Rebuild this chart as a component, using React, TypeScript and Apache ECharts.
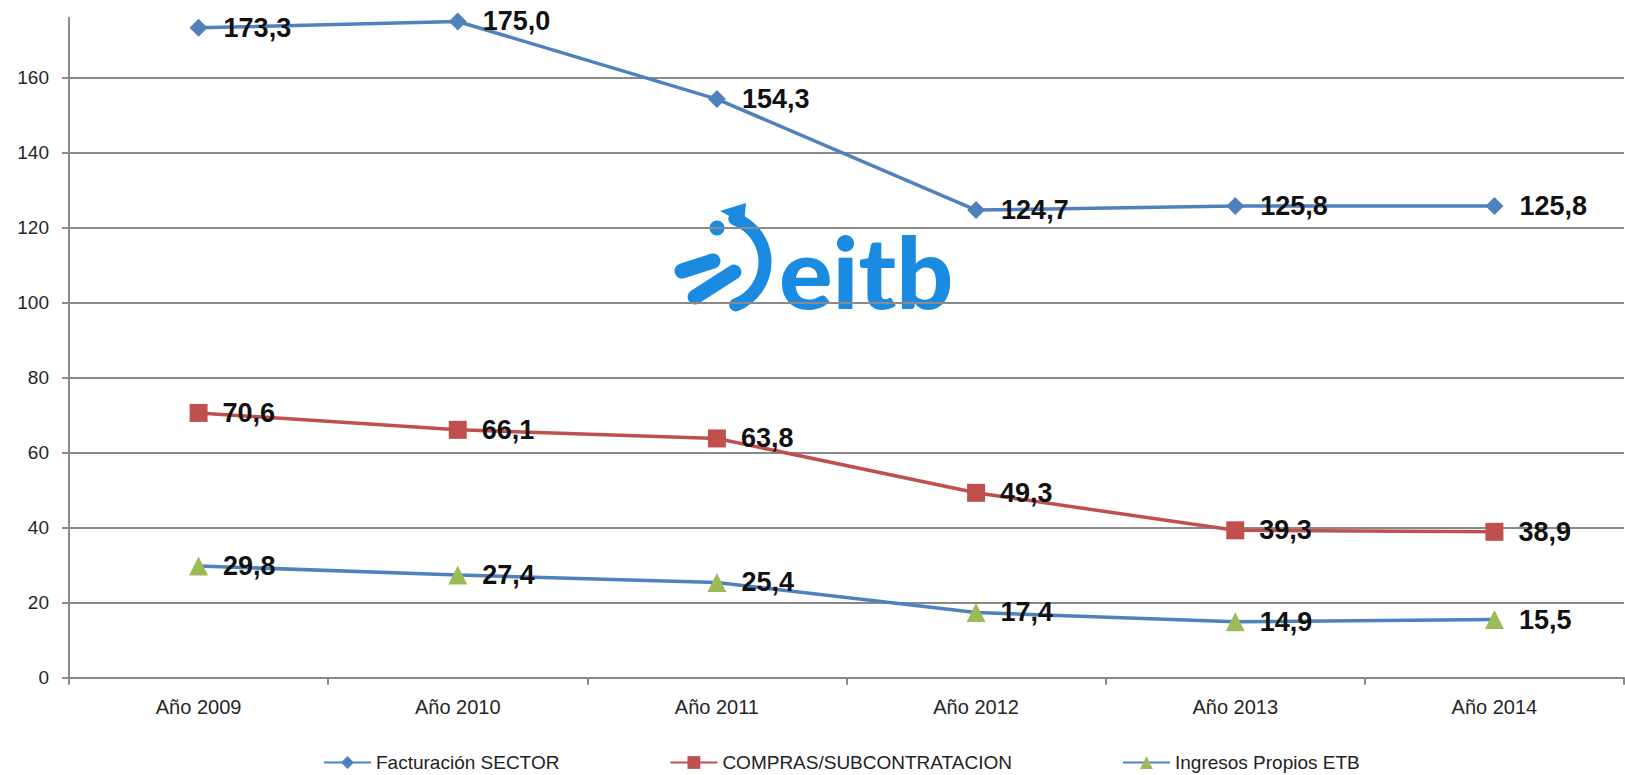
import React, { useEffect, useRef } from "react";
import * as echarts from "echarts";

const categories = ["Año 2009", "Año 2010", "Año 2011", "Año 2012", "Año 2013", "Año 2014"];
const facturacion = [173.3, 175.0, 154.3, 124.7, 125.8, 125.8];
const compras = [70.6, 66.1, 63.8, 49.3, 39.3, 38.9];
const ingresos = [29.8, 27.4, 25.4, 17.4, 14.9, 15.5];
const yTicks = [0, 20, 40, 60, 80, 100, 120, 140, 160];
const seriesNames = ["Facturación SECTOR", "COMPRAS/SUBCONTRATACION", "Ingresos Propios ETB"];

const FONT = "'Liberation Sans', Arial, sans-serif";
const LOGO = "#1A8BE0";

const fmt = (p: any) => Number(p.value).toFixed(1).replace(".", ",");

const labelStyle = (distance: number) => ({
  show: true,
  position: "right" as const,
  distance,
  formatter: fmt,
  fontFamily: FONT,
  fontSize: 27,
  fontWeight: "bold" as const,
  color: "#111",
});

export default function App() {
  const ref = useRef<HTMLDivElement>(null);
  useEffect(() => {
    if (!ref.current) return;
    const chart = echarts.init(ref.current, undefined, { renderer: "svg" });
    chart.setOption({
      animation: false,
      backgroundColor: "#fff",
      grid: { left: 69, right: 1, top: 17.7, bottom: 97.3, containLabel: false },
      legend: {
        left: 318,
        top: 748,
        itemWidth: 47,
        itemHeight: 16,
        itemGap: 110,
        textStyle: { fontFamily: FONT, fontSize: 19, color: "#222" },
        data: seriesNames,
      },
      xAxis: {
        type: "category",
        data: categories,
        boundaryGap: true,
        axisLine: { lineStyle: { color: "#8a8a8a", width: 2 } },
        axisTick: { show: true, length: 7, lineStyle: { color: "#8a8a8a", width: 2 } },
        axisLabel: { margin: 19, fontFamily: FONT, fontSize: 20, color: "#262626" },
      },
      yAxis: {
        type: "value",
        min: 0,
        max: 176,
        interval: 20,
        axisLine: { show: true, lineStyle: { color: "#8a8a8a", width: 2 } },
        axisTick: {
          show: true,
          length: 7,
          customValues: yTicks,
          lineStyle: { color: "#8a8a8a", width: 2 },
        },
        axisLabel: {
          margin: 20,
          customValues: yTicks,
          fontFamily: FONT,
          fontSize: 19,
          color: "#262626",
        },
        splitLine: {
          show: true,
          showMinLine: false,
          lineStyle: { color: "#8a8a8a", width: 2 },
        },
      },
      graphic: [
        {
          type: "group",
          silent: true,
          z: 1,
          children: [
            {
              type: "arc",
              shape: { cx: 719, cy: 262, r: 46, startAngle: -1.22, endAngle: 1.2, clockwise: true },
              style: { stroke: LOGO, lineWidth: 13, lineCap: "round", fill: "none" },
            },
            {
              type: "polygon",
              shape: { points: [[720, 211], [746, 203], [744, 224]] },
              style: { fill: LOGO },
            },
            {
              type: "circle",
              shape: { cx: 717, cy: 228, r: 7.5 },
              style: { fill: LOGO },
            },
            {
              type: "line",
              shape: { x1: 682, y1: 271, x2: 713, y2: 261 },
              style: { stroke: LOGO, lineWidth: 15, lineCap: "round" },
            },
            {
              type: "line",
              shape: { x1: 695, y1: 297, x2: 734, y2: 272 },
              style: { stroke: LOGO, lineWidth: 15, lineCap: "round" },
            },
            {
              type: "text",
              x: 779,
              y: 220,
              style: {
                text: "eitb",
                fill: LOGO,
                font: "900 100px Lato, 'Open Sans', sans-serif",
              },
            },
          ],
        },
      ],
      series: [
        {
          name: seriesNames[0],
          type: "line",
          data: facturacion,
          z: 3,
          symbol: "diamond",
          symbolSize: 18,
          lineStyle: { color: "#4F81BD", width: 3.5 },
          itemStyle: { color: "#4F81BD" },
          label: labelStyle(16),
        },
        {
          name: seriesNames[1],
          type: "line",
          data: compras,
          z: 3,
          symbol: "rect",
          symbolSize: 18,
          lineStyle: { color: "#C0504D", width: 3.5 },
          itemStyle: { color: "#C0504D" },
          label: labelStyle(15),
        },
        {
          name: seriesNames[2],
          type: "line",
          data: ingresos,
          z: 3,
          symbol: "triangle",
          symbolSize: 19,
          lineStyle: { color: "#4F81BD", width: 3.5 },
          itemStyle: { color: "#9BBB59" },
          label: labelStyle(15),
        },
      ],
    });
    return () => chart.dispose();
  }, []);
  return (
    <div
      ref={ref}
      style={{ position: "absolute", left: 0, top: 0, width: 1625, height: 775, background: "#fff" }}
    />
  );
}
